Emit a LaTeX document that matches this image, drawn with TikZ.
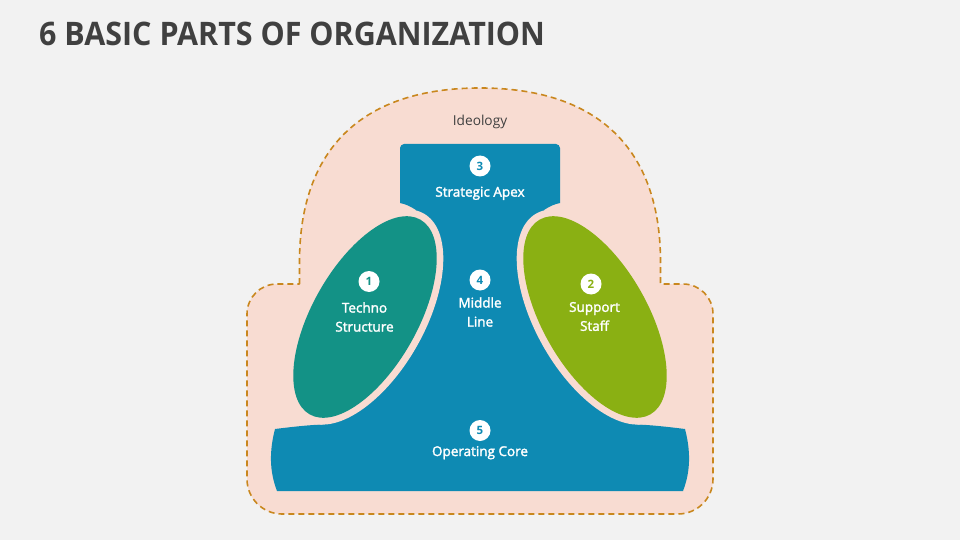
\documentclass[tikz,border=0pt]{standalone}
\usepackage{fontspec}
\setmainfont{Open Sans}
\newfontfamily\titlefont[FakeStretch=0.94]{Open Sans}
\newfontfamily\semifont[FakeBold=2]{Open Sans}
\definecolor{bgc}{HTML}{F2F2F2}
\definecolor{peach}{HTML}{F8DCD2}
\definecolor{dashc}{HTML}{C9871E}
\definecolor{bluec}{HTML}{0E8AB3}
\definecolor{tealc}{HTML}{139286}
\definecolor{greenc}{HTML}{8AB013}
\definecolor{darkt}{HTML}{404040}
\tikzset{
  badge/.style={circle, fill=white, minimum size=21pt, inner sep=0pt, font=\fontsize{11.5}{11.5}\selectfont\bfseries},
  lbl/.style={text=white, align=center, font=\semifont\fontsize{13.5}{19}\selectfont},
  outline/.style={fill=peach, draw=dashc, line width=1.6pt, dash pattern=on 6pt off 4pt},
}
\begin{document}
\begin{tikzpicture}[x=1pt,y=-1pt]
\fill[bgc] (0,0) rectangle (960,540);
\useasboundingbox (0,0) rectangle (960,540);

\node[anchor=base west, inner sep=0pt, text=darkt, font=\titlefont\fontsize{32.4}{36}\selectfont\bfseries] (title) at (39,46) {6 BASIC PARTS OF ORGANIZATION};

% Ideology outline
\path[outline] (299.5,284) -- (299.5,262)
  .. controls (299.5,148) and (363,88) .. (480,88)
  .. controls (597,88) and (660.5,148) .. (660.5,262)
  -- (660.5,284) -- (683,284)
  .. controls (699.6,284) and (713,297.4) .. (713,314)
  -- (713,479)
  .. controls (713,498.3) and (697.3,514) .. (678,514)
  -- (282,514)
  .. controls (262.7,514) and (247,498.3) .. (247,479)
  -- (247,314)
  .. controls (247,297.4) and (260.4,284) .. (277,284)
  -- cycle;

% Blue body
\fill[bluec] (400,203) -- (400,148) .. controls (400,146) and (402,144) .. (404,144)
  -- (556,144) .. controls (558,144) and (560,146) .. (560,148)
  -- (560,203) .. controls (555,204) and (550,206) .. (544,210)
  -- (595,317) -- (637.4,424.5)
  .. controls (650,425) and (665,426.5) .. (685,429)
  .. controls (690.7,451) and (690.7,471) .. (683,491)
  -- (277,491)
  .. controls (269.3,471) and (269.3,451) .. (275,429)
  .. controls (295,426.5) and (310,425) .. (322.6,424.5)
  -- (365,317) -- (416,210)
  .. controls (410,206) and (405,204) .. (400,203) -- cycle;

% gaps
\fill[peach, rotate around={-29.6:(365,317)}] (365,317) ellipse [x radius=59.5pt, y radius=119pt];
\fill[peach, rotate around={29.6:(595,317)}] (595,317) ellipse [x radius=59.5pt, y radius=119pt];
% lobes
\fill[tealc, rotate around={-29.6:(365,317)}] (365,317) ellipse [x radius=52.5pt, y radius=112pt];
\fill[greenc, rotate around={29.6:(595,317)}] (595,317) ellipse [x radius=52.5pt, y radius=112pt];

\node[text=darkt, font=\fontsize{13.7}{16}\selectfont] (ideo) at (480,121.7) {Ideology};

\node[badge, text=bluec] (b3) at (480,166) {3};
\node[lbl] (apex) at (480,193.3) {Strategic Apex};

\node[badge, text=tealc] (b1) at (369,281.5) {1};
\node[lbl] (tech) at (364.5,317) {Techno\\Structure};

\node[badge, text=greenc] (b2) at (591,284) {2};
\node[lbl] (supp) at (594.5,316.5) {Support\\Staff};

\node[badge, text=bluec] (b4) at (480,280) {4};
\node[lbl] (mid) at (480,312) {Middle\\Line};

\node[badge, text=bluec] (b5) at (480,430.5) {5};
\node[lbl] (core) at (480,452.7) {Operating Core};
\end{tikzpicture}
\end{document}
